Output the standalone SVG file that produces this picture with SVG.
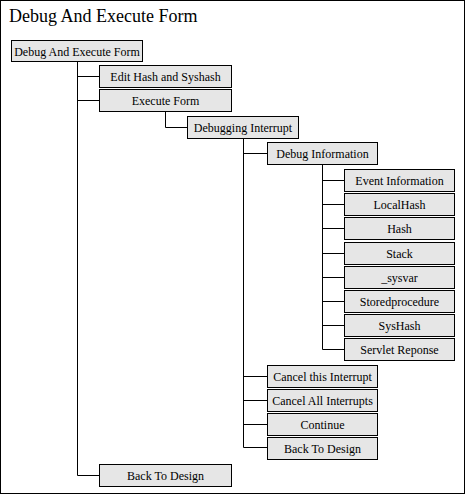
<svg xmlns="http://www.w3.org/2000/svg" width="467" height="495" viewBox="0 0 467 495">
<style>
.n rect{fill:#e6e6e6;stroke:#000;stroke-width:1}
.n text{font-family:"Liberation Serif","DejaVu Serif",serif;font-size:12px;fill:#000;text-anchor:middle}
.c path{fill:none;stroke:#000;stroke-width:1}
.title{font-family:"Liberation Serif","DejaVu Serif",serif;font-size:18px;fill:#000}
</style>
<rect x="0.5" y="0.5" width="464" height="493" fill="#fff" stroke="#000"/>
<text class="title" x="9" y="22">Debug And Execute Form</text>
<g class="c" id="connectors">
<path d="M77.5 61.5V475.5H99.5M77.5 76.5H99.5M77.5 100.5H99.5"/>
<path d="M165.5 111.5V127.5H187.5"/>
<path d="M243.5 138.5V447.5H267.5M243.5 153.5H267.5M243.5 376.5H267.5M243.5 400.5H267.5M243.5 424.5H267.5"/>
<path d="M322.5 164.5V349.5H344.5M322.5 180.5H344.5M322.5 204.5H344.5M322.5 228.5H344.5M322.5 253.5H344.5M322.5 277.5H344.5M322.5 301.5H344.5M322.5 325.5H344.5"/>
</g>
<g class="n" id="root"><rect x="11.5" y="40.5" width="131" height="21"/><text x="77" y="56">Debug And Execute Form</text></g>
<g class="n" id="edit"><rect x="99.5" y="65.5" width="132" height="22"/><text x="165.5" y="81">Edit Hash and Syshash</text></g>
<g class="n" id="exec"><rect x="99.5" y="89.5" width="132" height="22"/><text x="165.5" y="105">Execute Form</text></g>
<g class="n" id="dbgint"><rect x="187.5" y="116.5" width="111" height="22"/><text x="243" y="132">Debugging Interrupt</text></g>
<g class="n" id="dbginfo"><rect x="267.5" y="142.5" width="110" height="22"/><text x="322.5" y="158">Debug Information</text></g>
<g class="n" id="event"><rect x="344.5" y="169.5" width="110" height="22"/><text x="399.5" y="185">Event Information</text></g>
<g class="n" id="localhash"><rect x="344.5" y="193.5" width="110" height="22"/><text x="399.5" y="209">LocalHash</text></g>
<g class="n" id="hash"><rect x="344.5" y="217.5" width="110" height="22"/><text x="399.5" y="233">Hash</text></g>
<g class="n" id="stack"><rect x="344.5" y="242.5" width="110" height="22"/><text x="399.5" y="258">Stack</text></g>
<g class="n" id="sysvar"><rect x="344.5" y="266.5" width="110" height="22"/><text x="399.5" y="282">_sysvar</text></g>
<g class="n" id="stored"><rect x="344.5" y="290.5" width="110" height="22"/><text x="399.5" y="306">Storedprocedure</text></g>
<g class="n" id="syshash"><rect x="344.5" y="314.5" width="110" height="22"/><text x="399.5" y="330">SysHash</text></g>
<g class="n" id="servlet"><rect x="344.5" y="338.5" width="110" height="22"/><text x="399.5" y="354">Servlet Reponse</text></g>
<g class="n" id="cancel1"><rect x="267.5" y="365.5" width="110" height="22"/><text x="322.5" y="381">Cancel this Interrupt</text></g>
<g class="n" id="cancelall"><rect x="267.5" y="389.5" width="110" height="22"/><text x="322.5" y="405">Cancel All Interrupts</text></g>
<g class="n" id="continue"><rect x="267.5" y="413.5" width="110" height="22"/><text x="322.5" y="429">Continue</text></g>
<g class="n" id="back1"><rect x="267.5" y="437.5" width="110" height="22"/><text x="322.5" y="453">Back To Design</text></g>
<g class="n" id="back2"><rect x="99.5" y="464.5" width="132" height="22"/><text x="165.5" y="480">Back To Design</text></g>
</svg>
